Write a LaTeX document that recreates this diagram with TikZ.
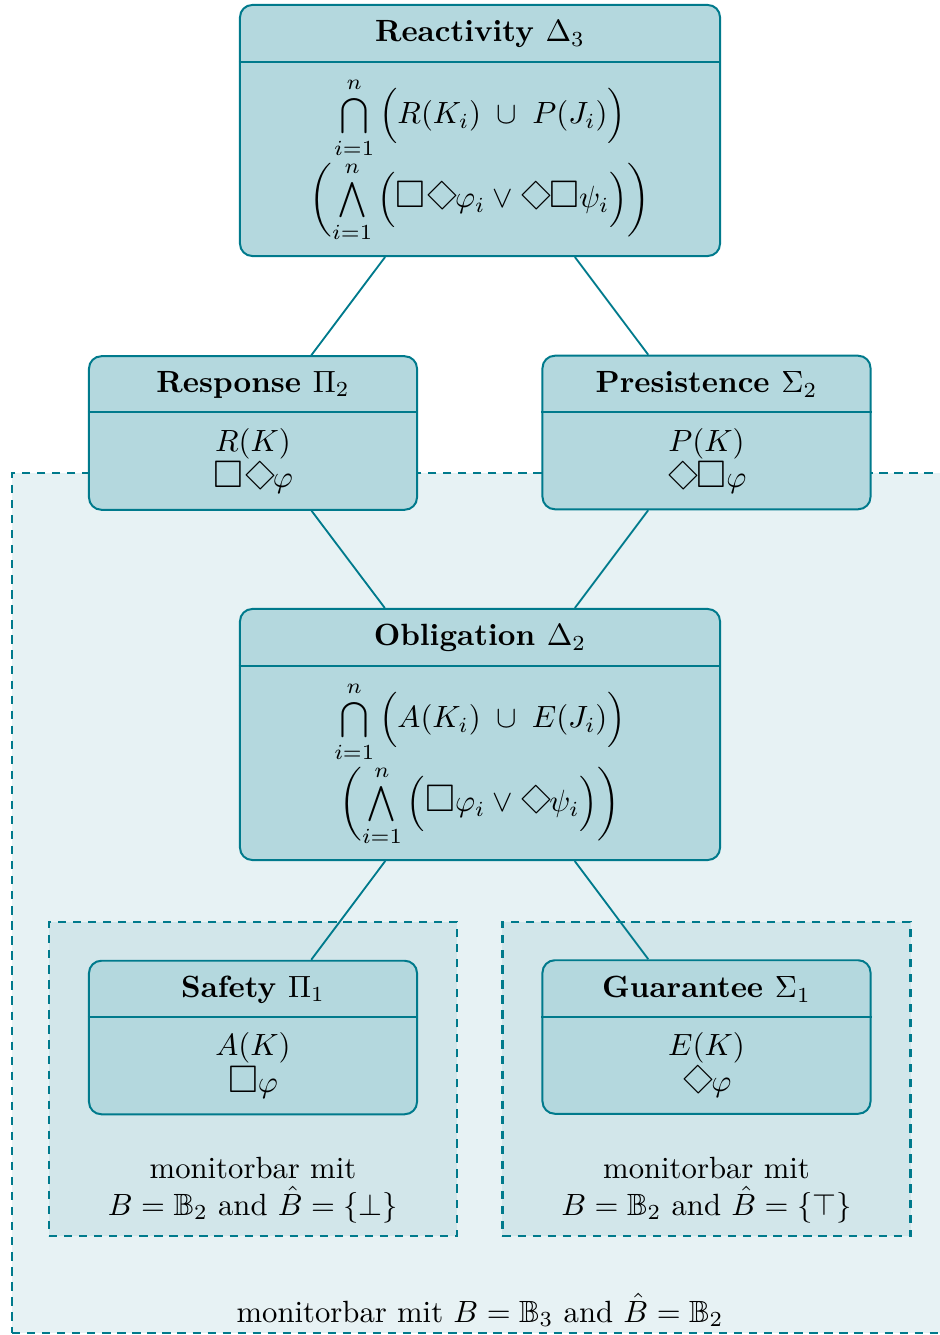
\documentclass[tikz,border=0pt]{standalone}
\usepackage{amsmath,amssymb}
% modal operators: an enlarged square and a square turned on its corner
\newcommand{\alw}{\mathord{\scalebox{1.25}{$\square$}}}
\newcommand{\evt}{\mathord{\mkern1mu\raisebox{-1.2pt}{\rotatebox{45}{$\square$}}\mkern-2mu}}
% medium-sized big operators, centred on the math axis
\newcommand{\Bcap}{\mathop{\vcenter{\hbox{\scalebox{0.82}{$\displaystyle\bigcap$}}}}}
\newcommand{\Bwedge}{\mathop{\vcenter{\hbox{\scalebox{0.82}{$\displaystyle\bigwedge$}}}}}
\definecolor{edgeteal}{RGB}{0,122,140}
\definecolor{boxfill}{RGB}{180,216,222}
\definecolor{outerfill}{RGB}{231,242,244}
\definecolor{innerfill}{RGB}{210,230,234}
\tikzset{
  frame/.style={draw=edgeteal, fill=boxfill, rounded corners=4pt, line width=0.65pt, inner sep=0pt},
  splitline/.style={draw=edgeteal, line width=0.65pt},
  conn/.style={draw=edgeteal, line width=0.6pt},
  ttl/.style={font=\bfseries, inner sep=0pt},
  body/.style={align=center, inner sep=0pt},
  region/.style={draw=edgeteal, dash pattern=on 2.7pt off 2.2pt, line width=0.75pt, inner sep=0pt},
  note/.style={align=center, inner sep=0pt},
  wide/.style={minimum width=156.35pt, minimum height=81.76pt},
  narrow/.style={minimum width=106.84pt, minimum height=50.0pt},
}
\begin{document}
\begin{tikzpicture}[x=0.3257pt, y=-0.3257pt]
\useasboundingbox (0,0) rectangle (939,1335);

% monitorable regions
\node[region, fill=outerfill, minimum width=303.9pt, minimum height=280.1pt] (outer) at (478.5,903) {};
\node[region, fill=innerfill, minimum width=132.9pt, minimum height=102.3pt] (safereg) at (253,1079) {};
\node[region, fill=innerfill, minimum width=132.9pt, minimum height=102.3pt] (guarreg) at (706.5,1079) {};

% class boxes
\node[frame, wide] (react) at (480,130.5) {};
\node[frame, narrow] (resp) at (253,433) {};
\node[frame, narrow] (pers) at (706.5,432.5) {};
\node[frame, wide] (oblig) at (480,734.5) {};
\node[frame, narrow] (safe) at (253,1037.5) {};
\node[frame, narrow] (guar) at (706.5,1037) {};

% separators between title and formula
\draw[splitline] (react.west |- 0,62) -- (react.east |- 0,62);
\draw[splitline] (resp.west |- 0,412) -- (resp.east |- 0,412);
\draw[splitline] (pers.west |- 0,412) -- (pers.east |- 0,412);
\draw[splitline] (oblig.west |- 0,666) -- (oblig.east |- 0,666);
\draw[splitline] (safe.west |- 0,1017) -- (safe.east |- 0,1017);
\draw[splitline] (guar.west |- 0,1017) -- (guar.east |- 0,1017);

% hierarchy
\draw[conn] (react) -- (resp);
\draw[conn] (react) -- (pers);
\draw[conn] (resp) -- (oblig);
\draw[conn] (pers) -- (oblig);
\draw[conn] (oblig) -- (safe);
\draw[conn] (oblig) -- (guar);

% titles
\node[ttl] (reactT) at (480,34) {Reactivity $\Delta_3$};
\node[ttl] (respT) at (253,384.5) {Response $\Pi_2$};
\node[ttl] (persT) at (706.5,384.5) {Presistence $\Sigma_2$};
\node[ttl] (obligT) at (480,638) {Obligation $\Delta_2$};
\node[ttl] (safeT) at (253,989.5) {Safety $\Pi_1$};
\node[ttl] (guarT) at (706.5,989.5) {Guarantee $\Sigma_1$};

% formulas
\node[body] (reactB) at (480,160) {%
  $\Bcap\limits_{i=1}^{n}\,\Bigl(R(K_i)\;\cup\;P(J_i)\Bigr)$\\
  $\biggl(\Bwedge\limits_{i=1}^{n}\,\Bigl(\alw\evt\varphi_i\vee\evt\alw\psi_i\Bigr)\biggr)$};
\node[body] (respB) at (253,461) {$R(K)$\\$\alw\evt\varphi$};
\node[body] (persB) at (706.5,461) {$P(K)$\\$\evt\alw\varphi$};
\node[body] (obligB) at (480,764) {%
  $\Bcap\limits_{i=1}^{n}\,\Bigl(A(K_i)\;\cup\;E(J_i)\Bigr)$\\
  $\biggl(\Bwedge\limits_{i=1}^{n}\,\Bigl(\alw\varphi_i\vee\evt\psi_i\Bigr)\biggr)$};
\node[body] (safeB) at (253,1065.5) {$A(K)$\\$\alw\varphi$};
\node[body] (guarB) at (706.5,1065) {$E(K)$\\$\evt\varphi$};

% region labels
\node[note] (safeN) at (253,1190) {monitorbar mit\\$B=\mathbb{B}_2$ and $\hat{B}=\{\bot\}$};
\node[note] (guarN) at (706.5,1190) {monitorbar mit\\$B=\mathbb{B}_2$ and $\hat{B}=\{\top\}$};
\node[note] (outerN) at (480,1310) {monitorbar mit $B=\mathbb{B}_3$ and $\hat{B}=\mathbb{B}_2$};
\end{tikzpicture}
\end{document}
